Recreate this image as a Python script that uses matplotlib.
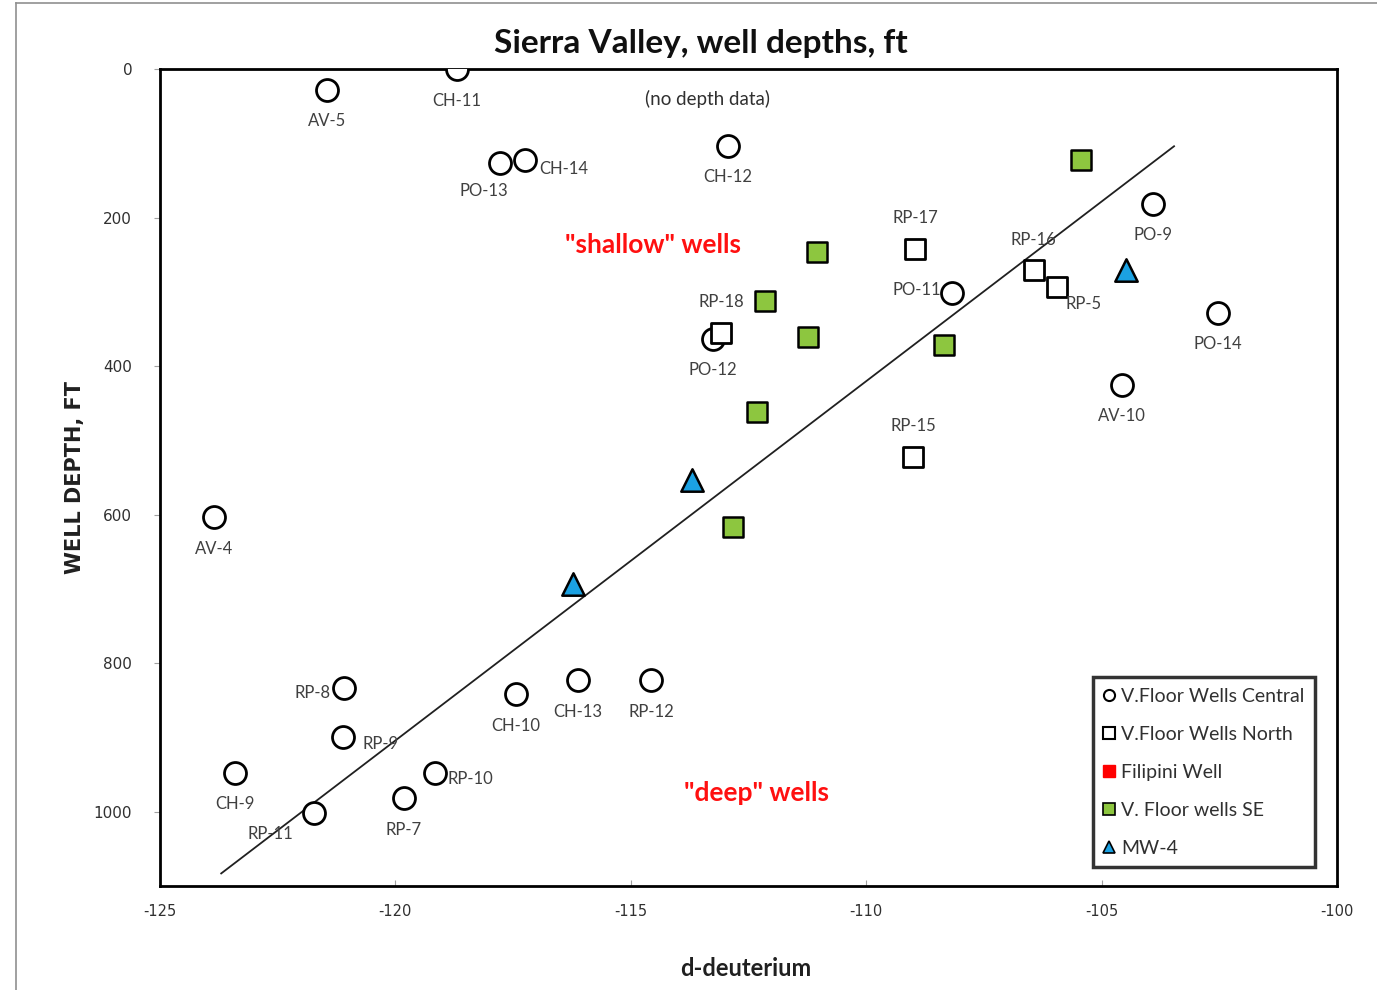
import matplotlib
matplotlib.use("Agg")
import matplotlib.pyplot as plt
from matplotlib.lines import Line2D

plt.rcParams['font.family'] = ['Lato', 'DejaVu Sans']
plt.rcParams['axes.unicode_minus'] = False

# V.Floor Wells Central (open circles)
central_names = ['CH-11', 'AV-5', 'PO-13', 'CH-14', 'CH-12', 'PO-9', 'PO-11', 'PO-12',
                 'PO-14', 'AV-10', 'AV-4', 'RP-8', 'CH-10', 'CH-13', 'RP-12', 'RP-9',
                 'CH-9', 'RP-10', 'RP-7', 'RP-11']
central_dd = [-118.7, -121.45, -117.78, -117.25, -112.94, -103.91, -108.18, -113.25,
              -102.53, -104.57, -123.85, -121.09, -117.44, -116.12, -114.57, -121.11,
              -123.41, -119.16, -119.82, -121.73]
central_depth = [0, 28, 127, 122, 103, 182, 302, 363,
                 328, 425, 603, 834, 842, 822, 822, 900,
                 948, 948, 982, 1002]

# V.Floor Wells North (open squares)
north_names = ['RP-17', 'RP-16', 'RP-5', 'RP-18', 'RP-15']
north_dd = [-108.96, -106.44, -105.95, -113.08, -109.0]
north_depth = [242, 270, 294, 355, 523]

# V. Floor wells SE (green squares)
se_dd = [-105.44, -111.05, -112.15, -111.24, -108.35, -112.32, -112.83]
se_depth = [122, 247, 312, 361, 372, 462, 616]

# MW-4 (blue triangles)
mw_dd = [-104.48, -113.70, -116.23]
mw_depth = [271, 553, 693]

# trend line end points
trend_dd = [-123.70, -103.46]
trend_depth = [1083, 104]

# label offsets in pixels (dx, dy) relative to the marker
central_offsets = [(0, -32), (0, -31), (-16, -28), (39, -9), (0, -31), (0, -31), (-35, 3), (0, -31),
                   (0, -31), (0, -31), (0, -32), (-32, -5), (0, -32), (0, -32), (0, -32), (37, -7),
                   (0, -31), (35, -6), (0, -32), (-44, -21)]
north_offsets = [(0, 31), (0, 30), (27, -17), (0, 31), (0, 31)]

fig = plt.figure(figsize=(13.77, 9.9), dpi=100)
ax = fig.add_axes([0.1162, 0.105, 0.8547, 0.8253])

ms_circle = 250
ms_square = 210
ax.scatter(central_dd, central_depth, s=ms_circle, marker='o', facecolor='white',
           edgecolor='black', linewidth=2, zorder=3)
ax.scatter(north_dd, north_depth, s=ms_square, marker='s', facecolor='white',
           edgecolor='black', linewidth=2, zorder=3)
ax.scatter(se_dd, se_depth, s=ms_square, marker='s', facecolor='#8DC63F',
           edgecolor='black', linewidth=1.8, zorder=3)
ax.scatter(mw_dd, mw_depth, s=260, marker='^', facecolor='#1BA1E2',
           edgecolor='black', linewidth=1.8, zorder=3)
ax.plot(trend_dd, trend_depth, color='#202020', linewidth=1.3, zorder=2)

lab_style = dict(textcoords='offset pixels', ha='center', va='center',
                 fontsize=12, color='#404040', zorder=4)
for name, x, y, off in zip(central_names, central_dd, central_depth, central_offsets):
    ax.annotate(name, (x, y), xytext=off, **lab_style)
for name, x, y, off in zip(north_names, north_dd, north_depth, north_offsets):
    ax.annotate(name, (x, y), xytext=off, **lab_style)

ax.text(-113.38, 40, '(no depth data)', ha='center', va='center', fontsize=13.5, color='#303030')
ax.text(-114.53, 237, '"shallow" wells', ha='center', va='center', fontsize=19,
        fontweight='bold', color='#FF1010')
ax.text(-112.34, 975, '"deep" wells', ha='center', va='center', fontsize=19,
        fontweight='bold', color='#FF1010')

ax.set_xlim(-125, -100)
ax.set_ylim(1100, 0)
ax.set_xticks(range(-125, -99, 5))
ax.set_yticks(range(0, 1001, 200))
ax.tick_params(axis='y', direction='out', length=4, color='#a0a0a0', labelsize=11,
               labelcolor='#303030', pad=16)
ax.tick_params(axis='x', direction='in', length=4, color='#a0a0a0', labelsize=10.5,
               labelcolor='#303030', pad=13)
for lbl in ax.get_xticklabels() + ax.get_yticklabels():
    lbl.set_family('DejaVu Sans')
for sp in ax.spines.values():
    sp.set_linewidth(2)
    sp.set_color('black')

fig.text(701 / 1377, 1 - 43 / 990, 'Sierra Valley, well depths, ft', ha='center', va='center',
         fontsize=24, fontweight='bold', color='#101010')
ax.set_xlabel('d-deuterium', fontsize=17, fontweight='bold', color='#202020')
ax.xaxis.set_label_coords(0.498, -0.1004)
ax.xaxis.label.set_va('center')
ax.set_ylabel('WELL DEPTH, FT', fontsize=15, fontweight='bold',
              family='DejaVu Sans', color='#202020')
ax.yaxis.set_label_coords(-0.0722, 0.5)
ax.yaxis.label.set_va('center')

handles = [
    Line2D([], [], marker='o', ls='', markerfacecolor='white', markeredgecolor='black',
           markersize=8, markeredgewidth=1.5),
    Line2D([], [], marker='s', ls='', markerfacecolor='white', markeredgecolor='black',
           markersize=8, markeredgewidth=1.5),
    Line2D([], [], marker='s', ls='', markerfacecolor='#FF0000', markeredgecolor='#FF0000',
           markersize=8),
    Line2D([], [], marker='s', ls='', markerfacecolor='#8DC63F', markeredgecolor='black',
           markersize=8, markeredgewidth=1.2),
    Line2D([], [], marker='^', ls='', markerfacecolor='#1BA1E2', markeredgecolor='black',
           markersize=8, markeredgewidth=1.2),
]
labels = ['V.Floor Wells Central', 'V.Floor Wells North', 'Filipini Well',
          'V. Floor wells SE', 'MW-4']
leg = ax.legend(handles, labels, loc='upper left', bbox_to_anchor=(0.7927, 0.2558),
                fontsize=14, frameon=True, fancybox=False, edgecolor='black',
                handlelength=0.6, handletextpad=0.3, labelspacing=1.08,
                borderpad=0.55, borderaxespad=0)
leg.get_frame().set_linewidth(2.5)
for t in leg.get_texts():
    t.set_color('#303030')

# outer picture border
fig.add_artist(Line2D([16 / 1377, 16 / 1377], [0, 1 - 3 / 990], transform=fig.transFigure,
                      color='#909090', linewidth=1.2))
fig.add_artist(Line2D([16 / 1377, 1], [1 - 3 / 990, 1 - 3 / 990], transform=fig.transFigure,
                      color='#909090', linewidth=1.2))

fig.savefig('out.png', dpi=100)
